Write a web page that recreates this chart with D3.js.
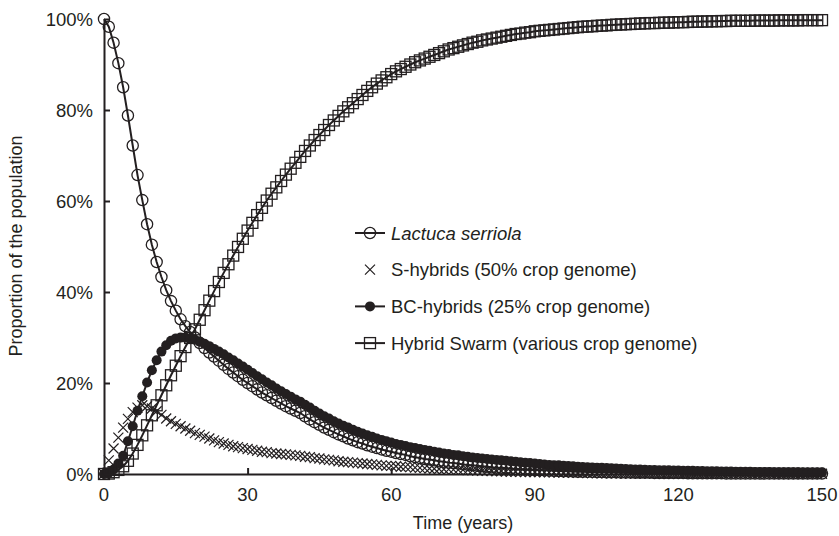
<!DOCTYPE html>
<html>
<head>
<meta charset="utf-8">
<style>
  body { margin: 0; background: #fff; }
  svg { font-family: "Liberation Sans", Arial, sans-serif; }
  .axis line, .axis path { stroke: #231f20; }
  .tick-label { font-size: 18.5px; fill: #231f20; }
  .title { font-size: 18px; fill: #231f20; }
  .legend text { font-size: 18.5px; fill: #231f20; }
</style>
</head>
<body>
<svg width="839" height="536"></svg>
<script src="https://cdn.jsdelivr.net/npm/d3@7"></script>
<script>
// years 0..150, one value per year (percent of population)
var years = d3.range(0, 151);

var lactuca = [
  100, 98.3, 94.8, 90.3, 85.0, 78.8, 72.2, 65.7, 60.2, 54.9,
  50.4, 46.6, 43.3, 40.4, 38.0, 35.9, 34.0, 32.5, 31.2, 30.0,
  28.8, 27.7, 26.7, 25.8, 24.9, 24.0, 23.1, 22.3, 21.5, 20.7,
  20.0, 19.3, 18.6, 17.9, 17.3, 16.7, 16.1, 15.5, 14.9, 14.4,
  13.9, 13.4, 12.7, 12.0, 11.4, 10.8, 10.2, 9.7, 9.2, 8.7,
  8.3, 7.8, 7.4, 7.0, 6.7, 6.3, 6.0, 5.7, 5.4, 5.1,
  4.9, 4.6, 4.4, 4.2, 3.9, 3.7, 3.5, 3.3, 3.2, 3.0,
  2.8, 2.7, 2.5, 2.4, 2.3, 2.1, 2.0, 1.9, 1.8, 1.7,
  1.6, 1.5, 1.4, 1.35, 1.3, 1.2, 1.1, 1.05, 1.0, 0.95,
  0.9, 0.85, 0.8, 0.75, 0.7, 0.65, 0.6, 0.6, 0.55, 0.5,
  0.5, 0.45, 0.45, 0.4, 0.4, 0.35, 0.35, 0.35, 0.3, 0.3,
  0.3, 0.25, 0.25, 0.25, 0.25, 0.2, 0.2, 0.2, 0.2, 0.2,
  0.2, 0.2, 0.15, 0.15, 0.15, 0.15, 0.15, 0.15, 0.15, 0.15,
  0.1, 0.1, 0.1, 0.1, 0.1, 0.1, 0.1, 0.1, 0.1, 0.1,
  0.1, 0.1, 0.1, 0.1, 0.1, 0.1, 0.1, 0.1, 0.1, 0.1, 0.1
];

var sHybrids = [
  0, 3.0, 5.6, 8.0, 10.2, 12.1, 13.6, 14.6, 15.1, 14.9,
  14.4, 13.8, 13.0, 12.2, 11.6, 11.0, 10.5, 10.0, 9.5, 9.0,
  8.6, 8.2, 7.8, 7.4, 7.0, 6.7, 6.4, 6.1, 5.9, 5.7,
  5.5, 5.3, 5.1, 4.9, 4.8, 4.6, 4.5, 4.4, 4.3, 4.2,
  4.1, 4.0, 3.8, 3.7, 3.5, 3.4, 3.2, 3.1, 3.0, 2.8,
  2.7, 2.6, 2.5, 2.4, 2.3, 2.2, 2.1, 2.0, 1.9, 1.8,
  1.8, 1.7, 1.6, 1.55, 1.5, 1.4, 1.35, 1.3, 1.2, 1.15,
  1.1, 1.05, 1.0, 0.95, 0.9, 0.9, 0.85, 0.8, 0.75, 0.7,
  0.7, 0.65, 0.6, 0.6, 0.55, 0.5, 0.5, 0.5, 0.45, 0.45,
  0.4, 0.4, 0.35, 0.35, 0.35, 0.3, 0.3, 0.3, 0.25, 0.25,
  0.25, 0.2, 0.2, 0.2, 0.2, 0.2, 0.2, 0.2, 0.2, 0.2,
  0.2, 0.15, 0.15, 0.15, 0.15, 0.15, 0.15, 0.15, 0.15, 0.15,
  0.15, 0.1, 0.1, 0.1, 0.1, 0.1, 0.1, 0.1, 0.1, 0.1,
  0.1, 0.1, 0.1, 0.1, 0.1, 0.1, 0.1, 0.1, 0.1, 0.1,
  0.05, 0.05, 0.05, 0.05, 0.05, 0.05, 0.05, 0.05, 0.05, 0.05, 0.05
];

var bcHybrids = [
  0, 0.3, 1.0, 2.3, 4.0, 7.2, 10.5, 13.9, 17.1, 20.1,
  22.8, 25.0, 26.9, 28.3, 29.3, 29.8, 30.0, 30.0, 29.8, 29.5,
  29.1, 28.6, 28.1, 27.5, 26.9, 26.3, 25.6, 25.0, 24.3, 23.6,
  22.9, 22.2, 21.5, 20.8, 20.1, 19.5, 18.8, 18.2, 17.6, 17.0,
  16.4, 15.9, 15.2, 14.6, 13.9, 13.3, 12.7, 12.2, 11.6, 11.1,
  10.6, 10.2, 9.7, 9.3, 8.9, 8.5, 8.2, 7.8, 7.5, 7.2,
  6.9, 6.6, 6.4, 6.15, 5.9, 5.7, 5.5, 5.3, 5.1, 4.9,
  4.7, 4.5, 4.4, 4.2, 4.1, 3.9, 3.8, 3.6, 3.5, 3.4,
  3.3, 3.2, 3.1, 3.0, 2.9, 2.8, 2.7, 2.6, 2.5, 2.4,
  2.3, 2.2, 2.1, 2.0, 1.95, 1.9, 1.8, 1.75, 1.7, 1.6,
  1.55, 1.5, 1.45, 1.4, 1.35, 1.3, 1.25, 1.2, 1.15, 1.1,
  1.05, 1.0, 0.97, 0.92, 0.9, 0.87, 0.85, 0.82, 0.8, 0.77,
  0.75, 0.73, 0.71, 0.69, 0.67, 0.65, 0.63, 0.61, 0.59, 0.57,
  0.55, 0.54, 0.52, 0.51, 0.49, 0.48, 0.46, 0.45, 0.44, 0.42,
  0.41, 0.4, 0.39, 0.38, 0.37, 0.36, 0.35, 0.34, 0.33, 0.32, 0.31
];

var swarm = [
  0, 0.1, 0.4, 0.9, 1.7, 2.9, 4.5, 6.4, 8.5, 10.7,
  12.9, 15.1, 17.3, 19.5, 21.7, 23.8, 25.9, 27.9, 29.9, 31.8,
  33.9, 36.0, 38.1, 40.2, 42.2, 44.2, 46.1, 48.0, 49.9, 51.7,
  53.5, 55.2, 56.9, 58.5, 60.1, 61.6, 63.0, 64.4, 65.8, 67.1,
  68.4, 69.7, 71.0, 72.2, 73.4, 74.5, 75.6, 76.7, 77.7, 78.7,
  79.7, 80.6, 81.5, 82.4, 83.3, 84.2, 85.0, 85.8, 86.5, 87.2,
  87.9, 88.5, 89.0, 89.5, 90.0, 90.5, 90.9, 91.3, 91.7, 92.1,
  92.5, 92.9, 93.3, 93.6, 93.9, 94.2, 94.5, 94.8, 95.0, 95.3,
  95.5, 95.7, 95.9, 96.1, 96.3, 96.5, 96.7, 96.8, 97.0, 97.1,
  97.3, 97.4, 97.5, 97.6, 97.7, 97.8, 97.9, 98.0, 98.1, 98.2,
  98.3, 98.35, 98.4, 98.5, 98.55, 98.6, 98.7, 98.75, 98.8, 98.85,
  98.9, 98.95, 99.0, 99.05, 99.1, 99.1, 99.15, 99.2, 99.2, 99.25,
  99.3, 99.3, 99.35, 99.4, 99.4, 99.45, 99.45, 99.5, 99.5, 99.55,
  99.55, 99.6, 99.6, 99.6, 99.6, 99.6, 99.65, 99.65, 99.65, 99.65,
  99.65, 99.7, 99.7, 99.7, 99.7, 99.7, 99.75, 99.75, 99.75, 99.75, 99.75
];

var xTicks = [0, 30, 60, 90, 120, 150];
var yTicks = [0, 20, 40, 60, 80, 100];

var ink = "#231f20";
var svg = d3.select("svg");

var x = d3.scaleLinear().domain([0, 150]).range([104, 822]);
var y = d3.scaleLinear().domain([0, 100]).range([474, 19]);

function pts(arr) {
  return years.map(function(t, i) { return { t: t, v: arr[i] }; });
}

var line = d3.line()
  .x(function(d) { return x(d.t); })
  .y(function(d) { return y(d.v); });

var plot = svg.append("g");

// Lactuca serriola: line + open circles
plot.append("path")
  .datum(pts(lactuca))
  .attr("d", line)
  .attr("fill", "none")
  .attr("stroke", ink)
  .attr("stroke-width", 2);
plot.append("g").selectAll("circle")
  .data(pts(lactuca))
  .enter().append("circle")
    .attr("cx", function(d) { return x(d.t); })
    .attr("cy", function(d) { return y(d.v); })
    .attr("r", 5.6)
    .attr("fill", "none")
    .attr("stroke", ink)
    .attr("stroke-width", 1.3);

// S-hybrids: crosses only
plot.append("g").selectAll("path")
  .data(pts(sHybrids))
  .enter().append("path")
    .attr("d", function(d) {
      var cx = x(d.t), cy = y(d.v), s = 5;
      return "M" + (cx - s) + "," + (cy - s) + "L" + (cx + s) + "," + (cy + s) +
             "M" + (cx - s) + "," + (cy + s) + "L" + (cx + s) + "," + (cy - s);
    })
    .attr("stroke", ink)
    .attr("stroke-width", 1.2);

// BC-hybrids: line + filled dots
plot.append("path")
  .datum(pts(bcHybrids))
  .attr("d", line)
  .attr("fill", "none")
  .attr("stroke", ink)
  .attr("stroke-width", 2);
plot.append("g").selectAll("circle")
  .data(pts(bcHybrids))
  .enter().append("circle")
    .attr("cx", function(d) { return x(d.t); })
    .attr("cy", function(d) { return y(d.v); })
    .attr("r", 5)
    .attr("fill", ink);

// Hybrid swarm: line + open squares
plot.append("path")
  .datum(pts(swarm))
  .attr("d", line)
  .attr("fill", "none")
  .attr("stroke", ink)
  .attr("stroke-width", 2);
plot.append("g").selectAll("rect")
  .data(pts(swarm))
  .enter().append("rect")
    .attr("x", function(d) { return x(d.t) - 5.5; })
    .attr("y", function(d) { return y(d.v) - 5.5; })
    .attr("width", 11)
    .attr("height", 11)
    .attr("fill", "none")
    .attr("stroke", ink)
    .attr("stroke-width", 1.3);

// axes: ticks point inward
svg.append("g")
  .attr("class", "axis")
  .attr("transform", "translate(0," + y(0) + ")")
  .call(d3.axisBottom(x).tickValues(xTicks).tickSize(-6).tickSizeOuter(0).tickFormat(""));
svg.append("g")
  .attr("class", "axis")
  .attr("transform", "translate(" + x(0) + ",0)")
  .call(d3.axisLeft(y).tickValues(yTicks).tickSize(-6).tickSizeOuter(0).tickFormat(""));
svg.selectAll(".axis path").attr("stroke-width", 2);
svg.selectAll(".axis line").attr("stroke-width", 2);

svg.append("g").selectAll("text")
  .data(xTicks)
  .enter().append("text")
    .attr("class", "tick-label")
    .attr("x", function(d) { return x(d); })
    .attr("y", 501)
    .attr("text-anchor", "middle")
    .text(function(d) { return d; });

svg.append("g").selectAll("text")
  .data(yTicks)
  .enter().append("text")
    .attr("class", "tick-label")
    .attr("x", 93)
    .attr("y", function(d) { return y(d) + 6.5; })
    .attr("text-anchor", "end")
    .text(function(d) { return d + "%"; });

svg.append("text")
  .attr("class", "title")
  .attr("x", 463)
  .attr("y", 529)
  .attr("text-anchor", "middle")
  .text("Time (years)");

svg.append("text")
  .attr("class", "title")
  .attr("transform", "translate(22,246) rotate(-90)")
  .attr("text-anchor", "middle")
  .text("Proportion of the population");

// legend
var legendItems = [
  { label: "Lactuca serriola", mark: "circle", line: true, italic: true },
  { label: "S-hybrids (50% crop genome)", mark: "cross", line: false },
  { label: "BC-hybrids (25% crop genome)", mark: "dot", line: true },
  { label: "Hybrid Swarm (various crop genome)", mark: "square", line: true }
];

var legend = svg.append("g").attr("class", "legend");
legendItems.forEach(function(item, i) {
  var g = legend.append("g").attr("transform", "translate(370," + (233 + i * 36.7) + ")");
  if (item.line) {
    g.append("line").attr("x1", -15).attr("x2", 15)
      .attr("stroke", ink).attr("stroke-width", 2);
  }
  if (item.mark === "circle") {
    g.append("circle").attr("r", 5.6).attr("fill", "white").attr("stroke", ink).attr("stroke-width", 1.3);
    g.append("line").attr("x1", -5.6).attr("x2", 5.6).attr("stroke", ink).attr("stroke-width", 2);
  } else if (item.mark === "cross") {
    g.append("path").attr("d", "M-5,-5L5,5M-5,5L5,-5").attr("stroke", ink).attr("stroke-width", 1.2);
  } else if (item.mark === "dot") {
    g.append("circle").attr("r", 5).attr("fill", ink);
  } else {
    g.append("rect").attr("x", -5.5).attr("y", -5.5).attr("width", 11).attr("height", 11)
      .attr("fill", "white").attr("stroke", ink).attr("stroke-width", 1.3);
    g.append("line").attr("x1", -5.5).attr("x2", 5.5).attr("stroke", ink).attr("stroke-width", 2);
  }
  g.append("text")
    .attr("x", 21)
    .attr("y", 6.5)
    .style("font-style", item.italic ? "italic" : "normal")
    .text(item.label);
});
</script>
</body>
</html>
